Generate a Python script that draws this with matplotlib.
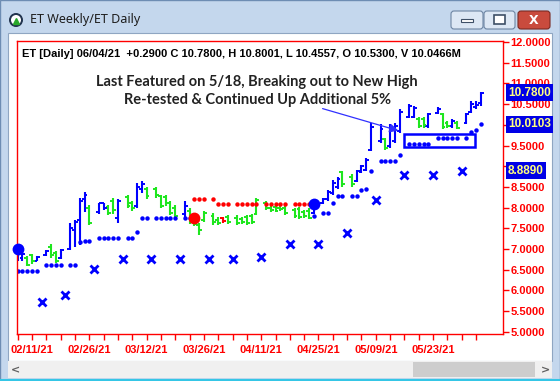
import datetime as dt
import numpy as np
import matplotlib
matplotlib.use('Agg')
import matplotlib.pyplot as plt
from matplotlib.patches import Rectangle, FancyBboxPatch, Circle

N = np.nan

# daily bars, 02/08/21 .. 06/04/21
dates = [
    '2021-02-08', '2021-02-09', '2021-02-10', '2021-02-11', '2021-02-12',
    '2021-02-16', '2021-02-17', '2021-02-18', '2021-02-19',
    '2021-02-22', '2021-02-23', '2021-02-24', '2021-02-25', '2021-02-26',
    '2021-03-01', '2021-03-02', '2021-03-03', '2021-03-04', '2021-03-05',
    '2021-03-08', '2021-03-09', '2021-03-10', '2021-03-11', '2021-03-12',
    '2021-03-15', '2021-03-16', '2021-03-17', '2021-03-18', '2021-03-19',
    '2021-03-22', '2021-03-23', '2021-03-24', '2021-03-25', '2021-03-26',
    '2021-03-29', '2021-03-30', '2021-03-31', '2021-04-01',
    '2021-04-05', '2021-04-06', '2021-04-07', '2021-04-08', '2021-04-09',
    '2021-04-12', '2021-04-13', '2021-04-14', '2021-04-15', '2021-04-16',
    '2021-04-19', '2021-04-20', '2021-04-21', '2021-04-22', '2021-04-23',
    '2021-04-26', '2021-04-27', '2021-04-28', '2021-04-29', '2021-04-30',
    '2021-05-03', '2021-05-04', '2021-05-05', '2021-05-06', '2021-05-07',
    '2021-05-10', '2021-05-11', '2021-05-12', '2021-05-13', '2021-05-14',
    '2021-05-17', '2021-05-18', '2021-05-19', '2021-05-20', '2021-05-21',
    '2021-05-24', '2021-05-25', '2021-05-26', '2021-05-27', '2021-05-28',
    '2021-06-01', '2021-06-02', '2021-06-03', '2021-06-04',
]
opens = [
    6.80, 6.78, 6.78, 6.85, 6.72,
    6.85, 7.05, 6.90, 6.78,
    7.00, 7.45, 7.70, 8.20, 8.00,
    7.90, 8.11, 8.02, 8.15, 7.75,
    8.25, 8.10, 8.05, 8.45, 8.45,
    8.45, 8.28, 8.25, 8.10, 8.00,
    7.85, 7.92, 7.75, 7.58, 7.70,
    7.80, 7.70, 7.75, 7.78,
    7.75, 7.72, 7.78, 7.80, 7.85,
    8.10, 7.98, 8.02, 8.00, 7.98,
    7.95, 7.96, 7.90, 7.92, 7.88,
    8.10, 8.20, 8.35, 8.50, 8.85,
    8.75, 8.65, 8.86, 8.92, 9.40,
    9.60, 9.65, 9.50, 9.60, 9.85,
    10.20, 10.20, 10.15, 10.15, 9.97,
    10.28, 10.25, 10.05, 9.96, 10.05,
    10.05, 10.32, 10.42, 10.53,
]
highs = [
    7.05, 6.92, 6.82, 6.88, 6.84,
    6.97, 7.13, 6.95, 7.00,
    7.62, 7.70, 8.24, 8.37, 8.06,
    8.12, 8.12, 8.07, 8.23, 8.21,
    8.31, 8.15, 8.60, 8.65, 8.50,
    8.51, 8.31, 8.31, 8.15, 8.07,
    8.15, 7.98, 7.80, 7.62, 7.92,
    7.86, 7.78, 7.78, 7.82,
    7.82, 7.78, 7.82, 7.85, 8.24,
    8.15, 8.03, 8.07, 8.07, 8.03,
    8.00, 8.02, 7.95, 7.98, 8.12,
    8.24, 8.43, 8.67, 8.75, 8.89,
    8.80, 8.92, 9.04, 9.20, 10.05,
    10.01, 9.69, 10.01, 10.05, 10.38,
    10.50, 10.46, 10.19, 10.19, 10.29,
    10.42, 10.29, 10.09, 10.13, 10.09,
    10.29, 10.58, 10.58, 10.8001,
]
lows = [
    6.72, 6.72, 6.58, 6.65, 6.70,
    6.83, 6.78, 6.67, 6.75,
    6.97, 7.05, 7.10, 7.90, 7.59,
    7.85, 7.95, 7.82, 7.85, 7.62,
    7.98, 7.92, 8.00, 8.35, 8.22,
    8.23, 7.98, 8.03, 7.82, 7.74,
    7.78, 7.60, 7.55, 7.34, 7.66,
    7.58, 7.58, 7.64, 7.60,
    7.58, 7.60, 7.58, 7.60, 7.82,
    7.95, 7.90, 7.90, 7.92, 7.82,
    7.75, 7.72, 7.76, 7.72, 7.85,
    8.08, 8.17, 8.31, 8.45, 8.51,
    8.51, 8.63, 8.84, 8.88, 9.36,
    9.56, 9.40, 9.44, 9.56, 9.81,
    10.17, 10.17, 9.93, 9.93, 9.93,
    10.25, 9.89, 9.93, 9.93, 9.89,
    10.01, 10.29, 10.38, 10.4557,
]
closes = [
    6.95, 6.89, 6.62, 6.72, 6.80,
    6.95, 6.85, 6.72, 6.97,
    7.50, 7.65, 8.15, 8.30, 7.62,
    8.11, 8.00, 7.88, 7.95, 8.15,
    8.05, 7.98, 8.50, 8.58, 8.28,
    8.30, 8.05, 8.10, 7.88, 7.80,
    8.05, 7.66, 7.60, 7.45, 7.86,
    7.65, 7.62, 7.68, 7.66,
    7.62, 7.65, 7.62, 7.66, 8.18,
    7.98, 7.95, 7.93, 7.96, 7.86,
    7.80, 7.78, 7.80, 7.76, 8.08,
    8.20, 8.38, 8.60, 8.70, 8.58,
    8.56, 8.88, 9.00, 9.15, 9.95,
    9.90, 9.45, 9.95, 9.98, 10.30,
    10.45, 10.40, 9.98, 10.00, 10.25,
    10.38, 9.95, 9.97, 10.10, 9.93,
    10.25, 10.50, 10.49, 10.78,
]
# b = blue bar, g = green bar, r = red bar
bar_kind = ('bbggb' 'bggb' 'bbbbg' 'bbggb' 'ggbbg' 'ggggg' 'bgggg' 'ggrg'
            'ggggg' 'ggggg' 'ggggb' 'bbbbg' 'gbbbb' 'bgbbb' 'bbggb' 'bggbg' 'bbbb')

long_stop = [
    6.48, 6.48, 6.48, 6.48, 6.48,
    6.62, 6.62, 6.62, 6.62,
    6.62, 6.62, 7.16, 7.20, 7.20,
    7.27, 7.27, 7.27, 7.27, 7.27,
    7.27, 7.27, 7.42, 7.74, 7.74,
    7.74, 7.74, 7.74, 7.74, 7.74,
    7.74, 7.74, N, N, N,
    N, N, N, N,
    N, N, N, N, N,
    N, N, N, N, N,
    N, N, N, N, 7.80,
    7.86, 7.86, 8.12, 8.29, 8.29,
    8.29, 8.29, 8.43, 8.45, 8.89,
    9.13, 9.13, 9.13, 9.13, 9.28,
    9.53, 9.53, 9.53, 9.53, 9.53,
    9.69, 9.69, 9.69, 9.69, 9.69,
    9.69, 9.83, 9.87, 10.0103,
]
short_stop = [N] * 31 + [
    8.20, 8.20, 8.20,
    8.20, 8.08, 8.08, 8.08,
    8.08, 8.08, 8.08, 8.08, 8.08,
    8.08, 8.08, 8.08, 8.08, 8.08,
    8.08, 8.08, 8.08, 8.08, N,
] + [N] * 29

# weekly values (x marks), weeks of 02/08 .. 05/24
weekly_stop = [5.72, 5.89, 6.51, 6.75, 6.75, 6.75, 6.75, 6.75,
               6.80, 7.11, 7.11, 7.38, 8.19, 8.78, 8.78, 8.889]

signal_dates = ['2021-02-08', '2021-03-24', '2021-04-23']
signal_prices = [7.00, 7.74, 8.08]
signal_colors = ['#0000ff', '#ff0000', '#0000ff']

tick_labels = ['02/11/21', '02/26/21', '03/12/21', '03/26/21',
               '04/11/21', '04/25/21', '05/09/21', '05/23/21']

BLUE = '#0000ff'
GREEN = '#1ee61e'
RED = '#ff0000'
kind_color = {'b': BLUE, 'g': GREEN, 'r': RED}

# one slot per trading day plus one empty slot at each weekend
pos = []
weekend_slot = []
slot = 0
prev_week = None
for d in dates:
    wk = dt.date.fromisoformat(d).isocalendar()[1]
    if prev_week is not None and wk != prev_week:
        weekend_slot.append(slot)
        slot += 1
    pos.append(slot)
    slot += 1
    prev_week = wk
pos = np.array(pos)
slot_of = dict(zip(dates, pos))
cols = [kind_color[k] for k in bar_kind]

fig = plt.figure(figsize=(5.6, 3.81), dpi=100)

# window frame, drawn in pixel units
bg = fig.add_axes([0, 0, 1, 1])
bg.set_xlim(0, 560)
bg.set_ylim(381, 0)
bg.axis('off')
bg.add_patch(Rectangle((0, 0), 560, 381, fc='#c4d7ed', ec='#6e8db3', lw=1))
bg.add_patch(Rectangle((8, 33), 544, 328, fc='white', ec='#8fa6c2', lw=0.8))
bg.add_patch(Rectangle((8, 361), 544, 17, fc='#f0f0f0', ec='none'))
bg.add_patch(Rectangle((413, 362), 122, 15, fc='#cdcdcd', ec='none'))
bg.text(15, 370, '<', fontsize=8, color='#606060', ha='center', va='center', weight='bold')
bg.text(545, 370, '>', fontsize=8, color='#606060', ha='center', va='center', weight='bold')
bg.plot([0, 560], [380, 380], color='#35c6e6', lw=1.5)
bg.add_patch(Circle((16, 20), 7, fc='#22344e', ec='none'))
bg.add_patch(Circle((16, 20), 5, fc='white', ec='none'))
bg.plot(16, 21, marker='^', color='#2aa82a', ms=5)
bg.text(30, 20, 'ET Weekly/ET Daily', fontsize=9, family='Noto Sans',
        color='#1e1e1e', va='center')
bg.add_patch(FancyBboxPatch((451, 11), 32, 18, boxstyle='round,pad=0,rounding_size=3',
                            fc='#dce7f4', ec='#6d85a3', lw=0.8))
bg.add_patch(Rectangle((461, 19), 12, 3, fc='white', ec='#3d4f66', lw=0.8))
bg.add_patch(FancyBboxPatch((484, 11), 31, 18, boxstyle='round,pad=0,rounding_size=3',
                            fc='#dce7f4', ec='#6d85a3', lw=0.8))
bg.add_patch(Rectangle((494, 15), 11, 9, fc='white', ec='#3d4f66', lw=1.2))
bg.add_patch(FancyBboxPatch((518, 11), 32, 18, boxstyle='round,pad=0,rounding_size=3',
                            fc='#c94b3d', ec='#7a2a22', lw=0.8))
bg.text(534, 20, 'X', fontsize=9, color='white', weight='bold', ha='center', va='center')

ax = fig.add_axes([17 / 560, 1 - 333.5 / 381, 486 / 560, 292.5 / 381])
ax.set_facecolor('white')
ax.set_xlim(-0.15, 101.65)
ax.set_ylim(4.96, 12.024)

# OHLC bars
ax.vlines(pos, lows, highs, colors=cols, lw=1.5)
ax.hlines(opens, pos - 0.6, pos, colors=cols, lw=1.4)
ax.hlines(closes, pos, pos + 0.6, colors=cols, lw=1.4)

ax.plot(pos, long_stop, 'o', color=BLUE, ms=3.2, mec='none')
ax.plot(pos, short_stop, 'o', color=RED, ms=3.2, mec='none')
ax.plot(weekend_slot, weekly_stop, 'x', color=BLUE, ms=6.3, mew=2)

for d, p, c in zip(signal_dates, signal_prices, signal_colors):
    ax.plot(slot_of[d], p, 'o', color=c, ms=8.5, mec='none', clip_on=False, zorder=6)

# consolidation box after the 5/18 feature
box_left = slot_of['2021-05-14'] + 1
box_right = slot_of['2021-06-03'] - 0.2
ax.add_patch(Rectangle((box_left, 9.46), box_right - box_left, 0.33,
                       fill=False, ec=BLUE, lw=1.8, zorder=5))

ax.text(50.1, 11.03, 'Last Featured on 5/18, Breaking out to New High',
        ha='center', va='center', fontsize=10.5, family='Lato', weight='bold', color='#222222')
ax.text(50.3, 10.60, 'Re-tested & Continued Up Additional 5%',
        ha='center', va='center', fontsize=10.5, family='Lato', weight='bold', color='#222222')
ax.annotate('', xy=(80.3, 9.84), xytext=(63.3, 10.41),
            arrowprops=dict(arrowstyle='-|>', color='#3030ff', lw=0.9, mutation_scale=13))

ax.text(0.011, 0.955, 'ET [Daily] 06/04/21  +0.2900 C 10.7800, H 10.8001, L 10.4557, '
        'O 10.5300, V 10.0466M', transform=ax.transAxes, fontsize=8,
        family='Liberation Sans', weight='bold', color='black', va='center')

for spine in ax.spines.values():
    spine.set_color(RED)
    spine.set_linewidth(1.0)

# price scale; 10.0 and 9.0 sit fully under the value boxes
ax.yaxis.tick_right()
yt = np.arange(5.0, 12.01, 0.5)
ax.set_yticks(yt)
ax.set_yticklabels(['' if v in (9.0, 10.0) else f'{v:.4f}' for v in yt])

# a tick every 3 slots, a date under every 4th tick
xt = np.arange(0, 97, 3)
xlabels = [''] * len(xt)
for i, lab in enumerate(tick_labels):
    xlabels[1 + 4 * i] = lab
ax.set_xticks(xt)
ax.set_xticklabels(xlabels)
ax.tick_params(axis='both', direction='out', length=4, width=1,
               color=RED, labelcolor=RED, labelsize=8)
ax.tick_params(axis='x', pad=4)
ax.tick_params(axis='y', pad=1.2)
for lab in ax.get_yticklabels() + ax.get_xticklabels():
    lab.set_fontfamily('Liberation Sans')
    lab.set_fontweight('bold')

# last values in blue boxes on the price scale
for v in [closes[-1], long_stop[-1], weekly_stop[-1]]:
    ax.text(1.0103, v, f'{v:.4f}', transform=ax.get_yaxis_transform(), fontsize=8.5,
            family='Liberation Sans', weight='bold', color='#ffff80', va='center', ha='left',
            bbox=dict(boxstyle='square,pad=0.2', fc='#0000e6', ec='none'), zorder=8,
            clip_on=False)

fig.savefig('out.png', dpi=100)
